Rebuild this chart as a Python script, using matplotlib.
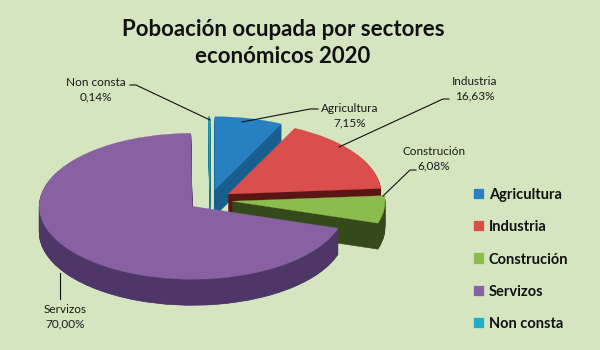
import numpy as np
import matplotlib.pyplot as plt
from matplotlib.path import Path
from matplotlib.colors import LinearSegmentedColormap

sectores = ['Agricultura', 'Industria', 'Construción', 'Servizos', 'Non consta']
porcentaxes = [7.15, 16.63, 6.08, 70.00, 0.14]
etiquetas = ['7,15%', '16,63%', '6,08%', '70,00%', '0,14%']

cores = ['#2680C2', '#DA4F4C', '#8CBB4E', '#8761A2', '#1DAECB']
cores_lado = ['#1A5E8E', '#5A1616', '#354A1A', '#4E3768', '#137A90']
fondo = '#D5E5BF'

plt.rcParams['font.family'] = ['Lato', 'DejaVu Sans']

W, H = 600, 350
cx, cy = 210, 200      # pie centre (px from top-left)
rx, ry = 153, 73       # ellipse radii in px
grosor = 26            # thickness of the 3d side in px
explode = [0.145] * len(porcentaxes)

fig = plt.figure(figsize=(6, 3.5), dpi=100, facecolor=fondo)
ax = fig.add_axes([0, 0, 1, 1])
ax.set_facecolor(fondo)


def draw_pie(dy, colors, lw=0.6):
    wedges, _ = ax.pie(porcentaxes, colors=colors, startangle=90, counterclock=False,
                       explode=explode, center=(0, -dy / ry),
                       wedgeprops=dict(linewidth=lw))
    for wg in wedges:
        wg.set_edgecolor(wg.get_facecolor())
    return wedges


# side walls, bottom layer first
servizos_paths = []
for d in range(grosor, 0, -1):
    ws = draw_pie(d, cores_lado, lw=0.4)
    servizos_paths.append(ws[3].get_path())

# shaded wall for Servizos
grad = LinearSegmentedColormap.from_list('lado', ['#7E5E9E', '#5E447C', '#3C2B53', '#2C2140'])
clip = Path.make_compound_path(*servizos_paths)
img = ax.imshow(np.linspace(0, 1, 256).reshape(1, -1), cmap=grad, aspect='auto',
                extent=[(35 - cx) / rx, (350 - cx) / rx, -(330 - cy) / ry, -(100 - cy) / ry],
                interpolation='bilinear')
img.set_clip_path(clip, ax.transData)

top = draw_pie(0, cores, lw=0.2)

ax.set_xlim((0 - cx) / rx, (W - cx) / rx)
ax.set_ylim(-(H - cy) / ry, cy / ry)
ax.set_aspect('auto')
ax.axis('off')

# text layer in pixel coordinates
ax2 = fig.add_axes([0, 0, 1, 1])
ax2.set_xlim(0, W)
ax2.set_ylim(H, 0)
ax2.axis('off')

ax2.text(283, 43, 'Poboación ocupada por sectores\neconómicos 2020', ha='center', va='center',
         fontsize=16, fontweight='bold', color='#111111', linespacing=1.4)

# data labels: (text x, text y, leader line points)
labels = [
    (350, 116, [(318, 109), (310, 109), (242, 122)]),
    (475, 89, [(449, 99), (443, 99), (339, 147)]),
    (434, 159, [(416, 170), (410, 170), (383, 196)]),
    (65, 317, [(60, 299), (60, 273)]),
    (96, 90, [(130, 85), (136, 85), (210, 120)]),
]
for (tx, ty, pts), nom, et in zip(labels, sectores, etiquetas):
    ax2.text(tx, ty, f'{nom}\n{et}', ha='center', va='center', fontsize=8.5,
             color='#1a1a1a', linespacing=1.4)
    xs, ys = zip(*pts)
    ax2.plot(xs, ys, color='#111111', lw=0.8)

fig.legend(top, sectores, loc='upper left', bbox_to_anchor=(461 / W, 1 - 175 / H),
           frameon=False, prop=dict(weight='bold', size=10.5), labelspacing=1.25,
           handlelength=0.7, handleheight=0.7, handletextpad=0.3, labelcolor='#111111')

fig.savefig('out.png', dpi=100, facecolor=fondo)
